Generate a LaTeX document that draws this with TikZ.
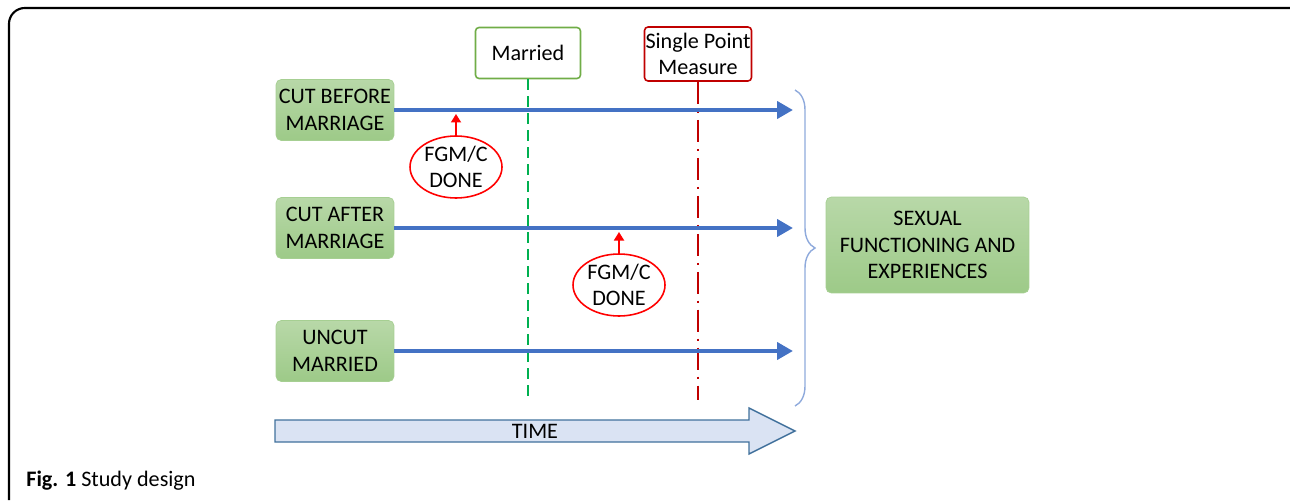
\documentclass[tikz,border=0pt]{standalone}
\usepackage{fontspec}
\setmainfont{Carlito}
\usetikzlibrary{arrows.meta,decorations.pathreplacing,shapes.geometric}

\definecolor{boxtop}{HTML}{B8D8A8}
\definecolor{boxbot}{HTML}{9DCA88}
\definecolor{boxline}{HTML}{A6CF92}
\definecolor{linkblue}{HTML}{4472C4}
\definecolor{marriedgreen}{HTML}{70AD47}
\definecolor{dashgreen}{HTML}{00B050}
\definecolor{measurered}{HTML}{C00000}
\definecolor{bracecol}{HTML}{8FAADC}
\definecolor{timefill}{HTML}{DAE3F3}
\definecolor{timeline}{HTML}{41719C}

\begin{document}
\begin{tikzpicture}[x=0.02cm,y=-0.02cm,
  txt/.style={font=\fontsize{12.6}{15.2}\selectfont, align=center},
  group/.style={txt, draw=boxline, top color=boxtop, bottom color=boxbot,
    rounded corners=3pt, inner sep=0pt, minimum width=2.36cm, minimum height=1.22cm},
  marker/.style={txt, draw, fill=white, rounded corners=2pt, line width=0.9pt, inner sep=0pt},
  done/.style={txt, ellipse, draw=red, line width=0.9pt, inner sep=0pt,
    minimum width=1.84cm, minimum height=1.24cm},
  timeline/.style={-{Triangle[length=0.32cm,width=0.34cm]}, linkblue, line width=0.08cm},
  cutarrow/.style={-{Triangle[length=0.17cm,width=0.2cm]}, red, line width=0.035cm},
]
\useasboundingbox (0,0) rectangle (1290,500);

% frame
\draw[line width=1.2pt, rounded corners=9pt] (9,500) -- (9,8) -- (1290,8);

% groups
\node[group] (before) at (335,110) {CUT BEFORE\\MARRIAGE};
\node[group] (after) at (335,228) {CUT AFTER\\MARRIAGE};
\node[group] (uncut) at (335,351) {UNCUT\\MARRIED};

% time points
\node[marker, draw=marriedgreen, minimum width=2.1cm, minimum height=1.02cm] (married) at (528,53) {Married};
\node[marker, draw=measurered, minimum width=2.14cm, minimum height=1.08cm] (measure) at (698,54) {Single Point\\Measure};
\coordinate (marriedend) at (528,400);
\coordinate (measureend) at (698,400);
\draw[dashgreen, line width=0.05cm, dash pattern=on 0.22cm off 0.12cm] (married) -- (marriedend);
\draw[measurered, line width=0.05cm, dash pattern=on 0.45cm off 0.13cm on 0.05cm off 0.13cm] (measure) -- (measureend);

% time lines
\coordinate (beforeend) at (793,110);
\coordinate (afterend) at (793,228);
\coordinate (uncutend) at (793,351);
\draw[timeline] (before) -- (beforeend);
\draw[timeline] (after) -- (afterend);
\draw[timeline] (uncut) -- (uncutend);

% cutting
\node[done] (done1) at (456,167) {FGM/C\\DONE};
\node[done] (done2) at (619,285) {FGM/C\\DONE};
\coordinate (cut1) at (456,114);
\coordinate (cut2) at (619,232);
\draw[cutarrow] (done1) -- (cut1);
\draw[cutarrow] (done2) -- (cut2);

% outcome
\coordinate (bracetop) at (795,90);
\coordinate (bracebot) at (795,406);
\draw[bracecol, line width=0.8pt, decorate, decoration={brace, amplitude=0.4cm}] (bracetop) -- (bracebot);
\node[group, minimum width=4.06cm, minimum height=1.92cm] (outcome) at (927.5,245) {SEXUAL\\FUNCTIONING AND\\EXPERIENCES};

% time arrow
\draw[timeline, draw=timeline, fill=timefill, line width=0.8pt, -] (275,420) -- (749,420) -- (749,408) -- (795,431) -- (749,454) -- (749,442) -- (275,442) -- cycle;
\node[txt] (time) at (535,431) {TIME};

% caption
\node[anchor=west, font=\fontsize{12.6}{15}\selectfont, inner sep=0pt] (caption) at (26,481) {\textbf{Fig. 1} Study design};
\end{tikzpicture}
\end{document}
